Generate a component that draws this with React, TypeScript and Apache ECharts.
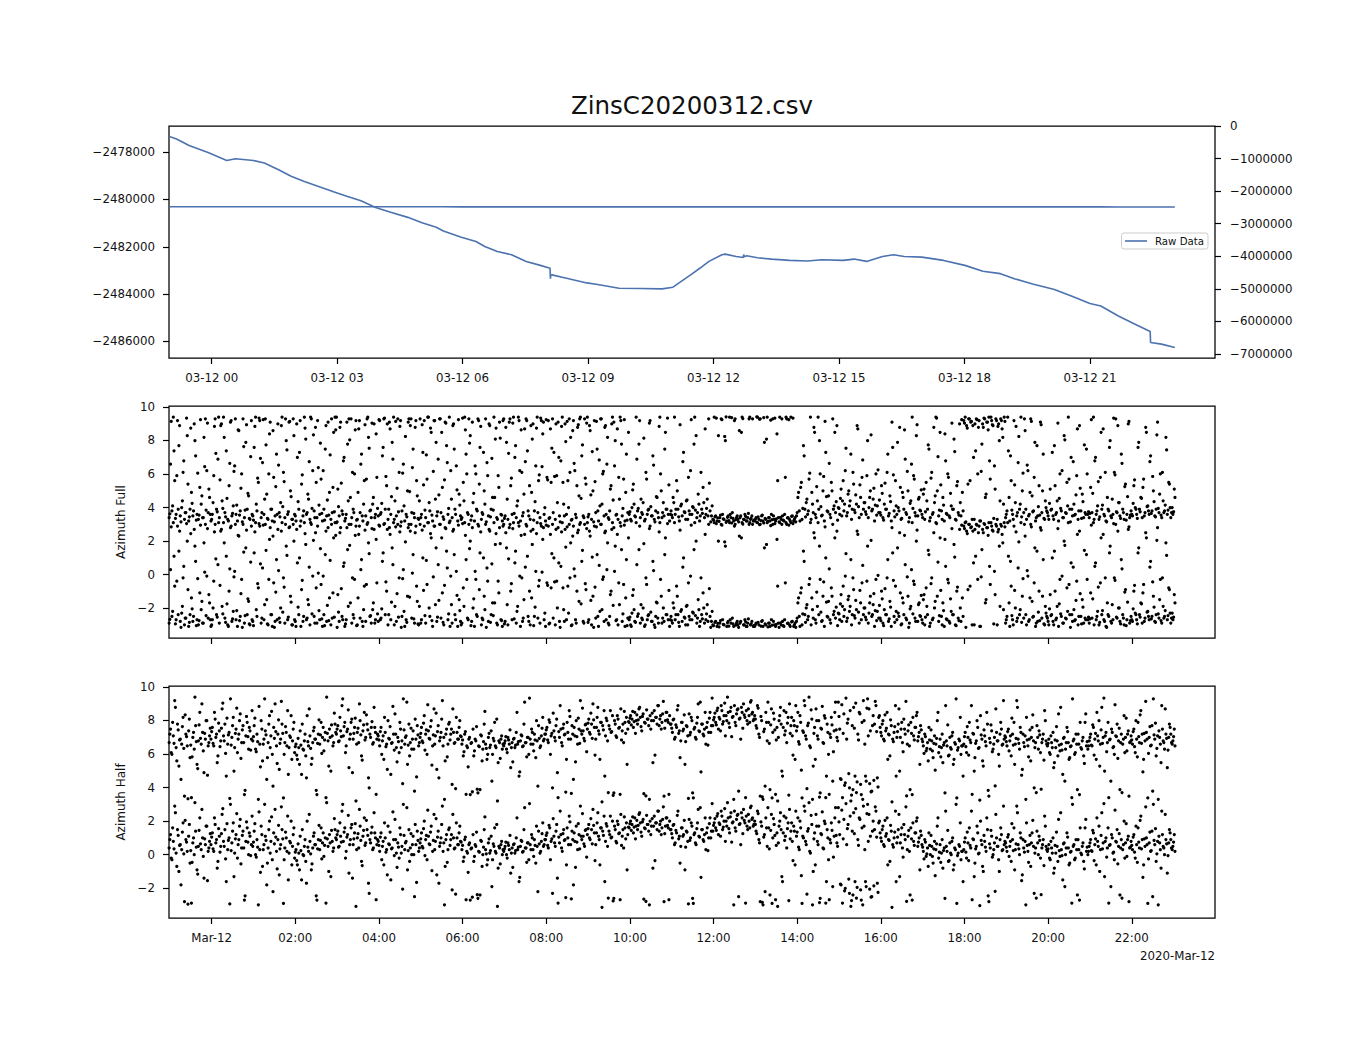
import React, { useEffect, useRef } from 'react';
import * as echarts from 'echarts';

// ---------- data ----------
// time axis is in hours relative to 2020-03-12 00:00
const SAMPLE_START_HOUR = -1.0167; // 22:59 on 2020-03-11
const SAMPLE_STEP_HOURS = 2 / 60; // each list holds one sample every 2 minutes
const SECOND_LIST_OFFSET_HOURS = 1 / 60; // the "B" lists fall on the odd minutes

const RAW_HOURS = [
  -1.01, -0.84, -0.54, -0.07, 0.36, 0.57, 1.0, 1.26, 1.6, 1.9, 2.2, 2.54, 2.93, 3.23, 3.57, 3.92, 4.26, 4.69, 5.03, 5.37,
  5.54, 5.97, 6.32, 6.53, 6.83, 7.17, 7.52, 7.86, 8.07, 8.09, 8.1, 8.11, 8.46, 8.97, 9.23, 9.74, 10.26, 10.77, 11.03, 11.46,
  11.68, 11.89, 12.2, 12.28, 12.54, 12.71, 12.72, 12.74, 12.79, 13.05, 13.39, 13.82, 14.25, 14.59, 15.1, 15.36, 15.66, 16.04,
  16.3, 16.56, 16.98, 17.5, 18.01, 18.44, 18.86, 19.21, 19.63, 20.15, 20.57, 21.0, 21.26, 21.68, 22.03, 22.44, 22.45, 22.71, 23.03,
];
const RAW_VALUES = [
  -2477342, -2477440, -2477720, -2478028, -2478350, -2478280, -2478350, -2478462, -2478741, -2479021, -2479231, -2479441,
  -2479679, -2479861, -2480057, -2480336, -2480532, -2480756, -2480980, -2481176, -2481330, -2481595, -2481777, -2481987,
  -2482197, -2482337, -2482617, -2482785, -2482897, -2482900, -2483344, -2483176, -2483316, -2483526, -2483596, -2483750,
  -2483764, -2483778, -2483708, -2483176, -2482897, -2482617, -2482337, -2482309, -2482407, -2482449, -2482330, -2482420,
  -2482379, -2482463, -2482519, -2482575, -2482603, -2482547, -2482575, -2482519, -2482617, -2482407, -2482337, -2482407,
  -2482435, -2482575, -2482785, -2483036, -2483134, -2483358, -2483568, -2483806, -2484086, -2484393, -2484505, -2484925,
  -2485233, -2485583, -2486044, -2486114, -2486254,
];

// azimuth samples (radians); each is drawn at its value and at its 2*pi alias
const AZIMUTH_FULL_A = [
  3.4, 0.3, 3.8, 3.1, 5.6, 3.6, 2.9, 1.4, 3.5, 4.0, 6.1, 3.3, 3.7, 2.0, 3.2, 3.9, 4.9, 3.5, 2.7, 0.8, 3.6, 3.3, 5.2, 4.2, 3.4, 1.9, 3.0, 6.2, 3.7, 4.6,
  3.2, 3.6, 5.9, 3.0, 3.9, 0.6, 3.4, 2.6, 4.4, 3.1, 3.7, 1.1, 3.3, 5.3, 2.8, 3.5, 4.1, 0.2, 3.6, 3.2, 2.3, 3.8, 6.0, 3.0, 3.4, 1.6, 3.9, 4.7, 3.3, 2.9,
  3.5, 1.3, 3.1, 3.8, 5.5, 2.9, 3.4, 0.4, 3.6, 3.0, 4.8, 3.3, 2.1, 3.9, 3.2, 5.8, 3.5, 0.9, 2.7, 3.7, 4.3, 3.1, 6.1, 3.4, 1.7, 3.6, 2.8, 5.0, 3.3, 3.0,
  3.6, 3.2, 0.7, 3.9, 2.9, 5.4, 3.5, 3.1, 1.8, 3.7, 4.5, 3.3, 3.0, 6.2, 3.8, 2.5, 3.4, 0.1, 3.6, 5.7, 3.2, 3.9, 1.2, 3.5, 2.8, 4.9, 3.3, 3.7, 2.2, 3.1,
  3.1, 5.1, 3.5, 2.8, 3.8, 0.5, 3.2, 3.6, 1.5, 3.0, 4.6, 3.4, 3.9, 6.0, 2.9, 3.3, 2.4, 3.7, 0.9, 3.2, 5.6, 3.5, 3.0, 1.9, 3.8, 3.4, 4.2, 2.7, 3.6, 5.8,
  3.5, 2.9, 3.7, 0.8, 3.0, 3.9, 5.3, 3.3, 2.8, 3.6, 1.6, 3.1, 4.4, 3.5, 3.0, 6.1, 2.9, 3.8, 0.3, 3.2, 3.6, 5.0, 3.0, 2.6, 3.7, 1.2, 3.4, 2.9, 4.7, 3.3,
  3.0, 3.6, 1.0, 2.9, 3.4, 5.7, 3.1, 3.8, 2.2, 3.2, 2.9, 4.5, 3.5, 0.6, 3.0, 3.7, 5.2, 3.3, 2.8, 1.4, 3.6, 3.1, 6.2, 3.4, 2.7, 3.9, 0.2, 3.2, 4.8, 3.5,
  3.4, 5.5, 3.1, 0.9, 3.7, 3.0, 2.0, 3.5, 4.3, 3.2, 6.0, 3.8, 2.9, 1.3, 3.3, 3.6, 5.0, 3.0, 0.4, 3.5, 2.6, 3.9, 4.6, 3.1, 1.8, 3.4, 5.9, 2.8, 3.6, 3.2,
  3.0, 3.5, 1.6, 3.3, 2.8, 5.3, 3.6, 3.1, 0.7, 3.4, 4.4, 2.9, 3.2, 6.1, 3.7, 2.4, 3.0, 1.1, 3.5, 3.3, 4.9, 2.7, 3.8, 0.2, 3.1, 5.6, 3.4, 2.9, 2.1, 3.6,
  3.2, 5.8, 2.9, 3.4, 5.5, 3.0, 1.0, 3.3, 5.9, 2.8, 3.5, 0.5, 3.1, 4.2, 2.7, 3.6, 5.6, 3.0, 1.9, 3.3, 2.9, 6.2, 3.4, 2.5, 4.7, 3.1, 0.8, 3.5, 3.0, 5.4,
  3.1, 3.6, 2.3, 3.3, 5.0, 2.9, 3.7, 1.2, 3.2, 4.1, 3.0, 6.0, 3.5, 2.6, 0.3, 3.4, 3.8, 5.3, 3.1, 2.8, 1.7, 3.6, 3.3, 4.5, 2.9, 3.5, 5.7, 3.2, 0.9, 3.7,
  3.6, 3.3, 4.0, 5.4, 3.5, 3.1, 3.8, 1.5, 3.4, 3.7, 4.3, 3.2, 6.1, 3.6, 3.9, 2.9, 3.5, 0.8, 3.3, 3.8, 4.6, 3.4, 3.1, 5.0, 3.7, 3.5, 2.2, 3.9, 3.6, 3.2,
  3.8, 3.4, 4.3, 3.6, 5.6, 3.9, 3.2, 4.1, 3.5, 1.0, 3.7, 4.4, 3.3, 3.8, 6.2, 3.6, 4.0, 3.1, 2.0, 3.7, 4.2, 3.5, 3.9, 5.2, 3.4, 3.6, 4.5, 3.0, 3.8, 3.5,
  3.3, 3.1, 3.5, 3.2, 2.0, 3.4, 3.0, 3.6, 3.3, 1.7, 3.2, 3.5, 3.1, 3.4, 3.7, 3.2, 3.0, 3.4, 3.3, 2.3, 3.5, 3.1, 3.3, 3.6, 3.2, 3.4, 3.0, 3.3, 3.5, 3.2,
  3.2, 3.4, 3.1, 3.3, 3.0, 3.5, 3.2, 1.6, 3.3, 3.1, 3.4, 3.2, 3.6, 3.0, 3.3, 3.2, 2.1, 3.4, 3.1, 3.3, 3.5, 3.2, 5.8, 3.0, 3.4, 3.3, 3.1, 3.5, 3.2, 3.4,
  3.5, 4.6, 3.8, 5.2, 3.3, 1.4, 3.9, 4.3, 3.6, 5.7, 3.1, 4.9, 3.7, 2.2, 3.4, 4.4, 3.9, 6.0, 3.5, 5.0, 3.2, 1.0, 3.8, 4.7, 3.6, 5.5, 3.0, 4.1, 3.7, 2.6,
  4.0, 3.6, 5.1, 4.4, 3.8, 6.2, 3.5, 4.8, 4.1, 0.9, 3.9, 5.4, 3.7, 4.2, 2.4, 3.4, 4.6, 5.8, 3.9, 4.3, 3.6, 1.7, 4.0, 5.0, 3.8, 4.5, 3.2, 6.0, 4.1, 3.7,
  3.7, 5.3, 3.4, 4.2, 3.9, 6.1, 3.5, 4.7, 3.2, 1.3, 3.8, 5.6, 3.6, 4.0, 2.5, 3.3, 4.9, 3.9, 0.6, 3.6, 5.0, 3.4, 4.4, 3.1, 5.9, 3.7, 2.0, 3.5, 4.6, 3.8,
  3.6, 4.8, 3.3, 5.5, 3.9, 1.2, 3.4, 6.1, 3.7, 4.3, 3.1, 5.0, 3.5, 2.2, 3.8, 4.6, 3.2, 0.5, 3.6, 5.8, 3.4, 4.1, 3.9, 1.8, 3.3, 5.3, 3.7, 2.7, 3.5, 4.9,
  2.9, 3.1, 2.6, 5.4, 3.0, 2.8, 3.3, 0.7, 2.7, 3.0, 6.0, 2.9, 3.2, 1.5, 2.5, 3.0, 4.8, 2.8, 3.1, 5.7, 2.9, 2.6, 0.2, 3.0, 3.3, 2.7, 4.4, 2.9, 1.9, 3.1,
  3.4, 3.8, 1.1, 3.2, 5.6, 3.6, 2.9, 4.3, 3.5, 0.4, 3.9, 3.1, 5.0, 3.7, 2.3, 3.3, 6.2, 3.6, 3.0, 4.7, 3.8, 1.6, 3.4, 3.5, 5.3, 2.8, 3.7, 0.9, 3.3, 4.0,
  3.7, 3.3, 5.1, 3.9, 3.5, 1.4, 3.6, 4.4, 3.2, 6.0, 3.8, 3.4, 2.0, 3.7, 5.5, 3.1, 3.9, 0.7, 3.5, 4.2, 3.6, 5.9, 3.3, 2.6, 3.8, 4.8, 3.4, 3.7, 1.2, 3.6,
  3.4, 5.2, 3.7, 3.1, 0.5, 3.6, 4.1, 3.3, 5.8, 3.9, 2.4, 3.5, 3.2, 4.6, 3.8, 1.7, 3.4, 3.6, 6.1, 3.0, 3.7, 4.3, 3.5, 0.9, 3.9, 3.3, 5.4, 3.6, 2.7, 3.4,
  3.8, 3.5, 5.3, 4.0, 3.6, 1.3, 3.9, 4.6, 3.4, 5.7, 3.7, 2.2, 4.1, 3.6, 0.8, 3.8, 5.0, 3.5, 3.9, 2.8, 3.7, 6.0, 3.4, 4.4, 3.8, 1.9, 3.6, 5.5, 4.0, 3.7,
  3.6, 5.1,
];

const AZIMUTH_FULL_B = [
  3.62, 2.85, 4.1, 1.1, 3.35, 5.9, 3.9, 2.6, 3.15, 4.4, 0.5, 3.7, 3.05, 5.4, 3.45, 2.45, 4.25, 3.8, 1.7, 3.25, 6.05, 3.55, 2.95, 4.7, 3.4, 0.15, 3.85, 2.75, 5.1, 3.6,
  3.3, 4.3, 2.55, 0.95, 3.75, 3.1, 5.65, 2.7, 3.95, 1.9, 3.45, 4.55, 3.2, 0.35, 2.9, 3.65, 6.15, 3.0, 4.15, 2.35, 3.55, 5.15, 3.15, 1.35, 3.85, 2.65, 4.85, 3.35, 0.75, 3.6,
  3.25, 2.55, 4.2, 5.75, 3.05, 0.65, 3.7, 2.95, 4.5, 1.45, 3.35, 6.0, 2.8, 3.9, 2.3, 3.15, 5.25, 3.6, 0.25, 3.45, 2.6, 4.05, 5.55, 3.0, 1.15, 3.75, 2.85, 4.65, 3.3, 2.0,
  3.5, 2.7, 4.35, 1.0, 3.2, 5.95, 3.8, 2.45, 3.6, 4.8, 0.45, 3.1, 3.95, 2.05, 3.4, 5.5, 2.9, 4.15, 1.55, 3.65, 6.2, 3.25, 2.6, 4.45, 3.55, 0.85, 3.0, 5.2, 3.75, 2.35,
  3.15, 4.05, 2.5, 5.45, 3.6, 0.7, 3.35, 2.8, 4.4, 1.75, 3.0, 6.1, 3.7, 2.35, 3.25, 4.9, 2.9, 0.3, 3.5, 4.2, 2.65, 5.7, 3.1, 1.25, 3.85, 2.75, 4.6, 3.4, 2.1, 3.95,
  2.95, 3.6, 4.25, 1.3, 3.05, 5.85, 2.7, 3.9, 2.4, 4.65, 0.6, 3.3, 2.85, 5.15, 3.75, 2.55, 3.15, 6.05, 4.1, 1.95, 3.45, 2.8, 4.95, 3.0, 0.1, 3.65, 2.5, 5.6, 3.35, 4.4,
  3.4, 2.65, 5.35, 3.85, 0.85, 3.1, 4.3, 2.45, 3.55, 6.15, 2.9, 1.6, 3.75, 4.75, 3.0, 2.2, 3.45, 5.65, 2.75, 0.4, 3.95, 3.2, 4.5, 2.6, 1.2, 3.6, 5.05, 2.95, 4.15, 3.3,
  3.05, 4.4, 2.35, 6.0, 3.6, 1.55, 3.25, 2.8, 4.85, 0.2, 3.9, 3.0, 5.4, 2.55, 3.7, 1.0, 4.2, 3.15, 5.9, 2.7, 3.45, 0.65, 3.85, 4.6, 2.45, 3.3, 5.2, 1.85, 3.55, 2.9,
  3.35, 2.5, 4.5, 0.95, 3.0, 5.75, 2.75, 3.65, 1.4, 4.1, 3.1, 6.2, 2.35, 3.5, 4.8, 0.45, 2.9, 3.8, 5.3, 2.6, 1.8, 3.25, 4.35, 2.45, 3.7, 5.95, 3.05, 0.15, 2.8, 4.0,
  2.95, 5.65, 3.35, 2.4, 1.25, 3.7, 5.85, 2.7, 4.3, 0.7, 3.15, 2.55, 5.5, 3.5, 1.65, 2.85, 4.0, 6.1, 3.25, 2.3, 0.35, 3.6, 5.3, 2.65, 3.0, 4.55, 1.45, 3.4, 5.75, 2.75,
  3.45, 2.6, 4.75, 1.05, 3.15, 5.55, 2.85, 3.8, 0.55, 3.0, 4.2, 6.15, 2.5, 3.6, 1.9, 3.3, 5.1, 2.7, 4.45, 0.2, 3.55, 2.4, 5.8, 3.1, 1.5, 3.95, 2.95, 4.9, 3.25, 2.2,
  3.75, 3.2, 5.05, 4.2, 3.45, 0.6, 3.95, 2.9, 4.5, 3.6, 1.85, 3.3, 5.7, 3.85, 2.75, 4.05, 3.5, 0.25, 3.15, 4.65, 3.7, 2.55, 6.0, 3.4, 4.3, 1.2, 3.9, 3.05, 5.35, 3.6,
  3.55, 4.6, 3.1, 3.9, 5.0, 3.45, 2.65, 4.2, 0.45, 3.75, 3.3, 4.45, 5.8, 3.6, 2.95, 4.05, 1.5, 3.85, 3.4, 4.8, 3.2, 6.1, 3.65, 4.3, 2.4, 3.95, 3.5, 5.45, 3.15, 4.1,
  3.25, 3.45, 3.05, 3.38, 3.18, 3.55, 2.95, 3.32, 1.95, 3.12, 3.42, 3.22, 3.6, 3.08, 3.35, 2.9, 3.28, 3.5, 3.15, 3.4, 2.2, 3.02, 3.3, 3.48, 3.2, 3.65, 3.1, 3.36, 3.0, 3.25,
  3.3, 3.12, 3.45, 2.98, 3.22, 3.55, 3.08, 3.35, 1.8, 3.18, 3.4, 2.92, 3.28, 3.5, 3.05, 3.32, 5.6, 3.15, 3.42, 3.0, 3.25, 3.6, 3.1, 3.38, 2.95, 3.2, 3.48, 3.05, 3.3, 3.15,
  3.7, 4.9, 3.2, 5.5, 3.95, 0.8, 3.45, 4.5, 3.8, 6.05, 3.3, 4.2, 2.5, 3.6, 5.25, 3.1, 1.7, 4.05, 3.55, 5.85, 2.85, 4.65, 3.75, 0.35, 3.4, 5.0, 3.9, 2.2, 4.35, 3.25,
  3.95, 4.55, 3.5, 5.6, 4.2, 1.25, 3.7, 5.0, 4.4, 3.3, 6.1, 3.85, 4.75, 2.6, 4.05, 5.35, 3.6, 0.55, 4.3, 3.75, 5.9, 3.4, 4.6, 2.05, 3.9, 5.15, 4.15, 3.55, 6.25, 4.45,
  3.55, 4.85, 3.25, 5.45, 3.9, 0.9, 3.65, 4.35, 2.8, 5.95, 3.45, 4.1, 1.6, 3.8, 5.2, 3.35, 4.6, 2.35, 3.7, 6.15, 3.15, 4.25, 0.3, 3.95, 5.7, 3.5, 2.65, 4.5, 3.85, 5.05,
  3.4, 5.1, 3.75, 4.4, 1.45, 3.2, 5.75, 3.6, 2.5, 4.7, 3.05, 0.75, 3.85, 5.35, 3.3, 4.15, 2.1, 3.65, 6.0, 3.5, 4.85, 2.75, 3.9, 1.05, 3.25, 5.55, 3.55, 4.3, 2.95, 3.8,
  2.75, 3.15, 2.45, 3.0, 5.6, 2.85, 2.6, 3.3, 1.1, 2.95, 2.5, 3.2, 6.15, 2.7, 3.05, 4.6, 2.8, 2.35, 0.5, 3.1, 2.65, 3.35, 5.1, 2.9, 2.55, 1.7, 3.0, 2.4, 4.2, 2.85,
  3.6, 3.1, 4.6, 0.8, 3.85, 3.3, 5.35, 2.55, 3.7, 1.95, 4.2, 3.45, 6.05, 3.0, 3.9, 0.25, 3.5, 4.9, 2.85, 3.75, 5.8, 3.2, 1.4, 4.05, 3.55, 2.65, 5.0, 3.35, 4.4, 3.8,
  3.5, 4.25, 3.85, 1.0, 3.3, 5.3, 3.7, 2.75, 4.55, 3.95, 6.2, 3.4, 1.75, 3.65, 4.1, 5.7, 3.15, 3.9, 0.45, 3.55, 4.75, 2.4, 3.8, 5.15, 3.35, 4.35, 1.45, 3.6, 6.0, 3.75,
  3.65, 2.95, 4.85, 3.3, 0.7, 3.8, 5.55, 3.45, 2.2, 4.15, 3.6, 6.1, 3.15, 3.9, 1.3, 3.5, 4.5, 3.05, 5.95, 3.75, 2.6, 4.3, 3.35, 0.35, 3.7, 5.25, 3.25, 4.65, 2.85, 3.55,
  3.6, 4.25, 5.65, 3.9, 3.35, 1.6, 3.75, 4.55, 5.2, 3.5, 2.5, 4.05, 3.8, 0.45, 3.65, 5.85, 4.35, 3.45, 2.05, 3.95, 4.8, 3.55, 6.1, 3.7, 4.15, 1.15, 3.85, 5.4, 3.4, 4.0,
  3.75, 4.6,
];

const AZIMUTH_HALF_A = [
  0.4, 1.2, -0.3, 0.8, 2.9, 0.1, 1.5, -1.0, 0.6, 0.3, 1.9, -2.8, 0.9, 0.2, 1.1, -0.5, 3.4, 0.7, 0.0, 1.4, -0.9, 0.5, 2.2, 0.3, 1.0, -1.4, 0.6, 1.7, 0.2, 0.8,
  0.6, 1.3, 0.2, 1.8, 0.9, -0.4, 1.1, 0.5, 2.4, 0.8, 1.5, -1.6, 0.3, 1.0, 3.0, 0.7, 1.9, 0.1, 1.2, -0.2, 0.9, 2.1, 0.4, 1.4, -2.7, 0.8, 1.6, 0.0, 1.1, 0.6,
  0.5, 1.4, 0.0, 0.9, 3.3, 0.3, 1.7, -0.7, 0.6, 1.1, -1.8, 0.4, 2.0, 0.8, -0.3, 1.3, 2.7, 0.2, 0.9, -1.2, 0.6, 1.5, -2.9, 0.4, 1.0, 2.3, 0.1, 0.7, -0.6, 1.2,
  -0.2, 0.3, -0.6, 0.1, 1.1, -1.5, 0.0, 0.5, -0.4, 2.0, 0.2, 0.8, -0.9, 0.4, 1.3, 0.6, -2.7, 0.9, 0.3, 1.6, 0.7, -0.1, 1.0, 3.1, 0.5, 1.2, -1.3, 0.8, 0.4, 1.5,
  0.9, 1.4, 0.5, 1.1, 2.6, 0.8, 1.6, 0.2, 1.2, -1.1, 0.9, 1.8, 0.6, 1.3, 3.2, 1.0, 0.4, 1.7, -0.4, 1.1, 2.2, 0.7, 1.5, -1.7, 0.9, 1.3, 0.3, 2.5, 1.0, 0.6,
  0.8, 0.2, 1.3, 0.5, -0.6, 1.0, 0.3, 1.7, 0.6, -1.5, 0.4, 0.9, 2.1, 0.1, 0.7, -0.2, 1.2, 0.5, 3.0, 0.3, 0.8, -0.9, 1.5, 0.4, 0.0, 1.1, -2.5, 0.6, 1.4, 0.2,
  0.7, 1.3, 0.4, 2.0, 0.9, -0.3, 1.1, 0.6, 1.7, 0.2, 2.4, 0.8, -1.2, 1.4, 0.5, 1.0, 2.9, 0.7, -0.7, 1.2, 0.3, 1.6, 0.9, -2.1, 1.0, 0.4, 1.9, 0.6, 1.3, 0.8,
  0.3, -0.4, 0.9, 3.6, 0.1, 0.6, -2.7, 0.4, 1.2, -0.1, 0.5, 3.9, 0.2, -2.4, 0.8, 0.0, 1.5, 0.3, -0.6, 0.7, 0.1, 1.1, -0.3, 0.5, 0.2, 1.8, -0.8, 0.4, 0.6, 0.0,
  0.2, 0.5, 0.0, 0.7, 0.3, -1.1, 0.4, 0.6, 0.1, 1.0, 0.3, -1.6, 0.5, 0.8, 0.2, 2.8, 0.4, 0.7, -0.3, 0.6, 1.2, 0.3, 0.9, -0.5, 0.5, 1.4, 0.1, 0.8, 1.9, 0.6,
  0.9, 1.3, 0.4, 1.6, 0.8, -2.3, 1.1, 0.5, 1.8, 3.4, 0.7, 1.2, 0.2, 1.5, 0.9, -0.6, 1.0, 2.3, 0.6, 1.4, -1.8, 0.8, 1.7, 0.3, 1.2, 2.9, 0.9, 1.1, 0.5, 1.5,
  1.2, 1.8, 0.9, 1.5, 2.7, 1.3, 0.6, 1.9, 1.1, -0.6, 1.6, 1.4, 2.3, 0.8, 1.7, 3.7, 1.2, 1.0, 2.0, -2.6, 1.5, 0.7, 1.8, 1.3, 2.4, 1.1, 0.4, 1.6, 1.9, 1.2,
  1.6, 2.0, 1.8, 1.3, 2.2, 1.7, 1.5, 2.4, 1.9, 1.1, 2.1, 1.6, 3.5, 1.8, 1.4, 2.0, 1.7, -0.8, 2.3, 1.9, 1.5, 2.6, 1.8, 1.2, 2.1, -2.8, 1.7, 2.2, 1.6, 2.0,
  1.5, 1.0, 1.8, 0.7, 1.3, 2.6, 1.1, 0.5, 1.6, 1.2, -0.9, 1.4, 0.8, 2.1, 1.0, 1.7, -2.9, 1.3, 0.6, 1.9, 1.1, 2.8, 1.5, 0.9, 1.2, 0.3, 1.6, 1.0, 2.2, 1.4,
  1.4, 1.9, 1.6, 2.3, 1.2, 1.8, 2.6, 1.5, 2.0, 0.8, 1.7, 2.2, 1.3, 2.5, 1.9, 3.3, 1.6, 2.1, 2.4, 1.8, 0.6, 2.2, 2.7, 1.9, 2.3, 1.5, 2.0, 2.8, 2.1, 1.7,
  2.0, 1.4, 2.6, 0.9, -2.8, 1.7, 3.3, 1.2, 2.2, 0.5, 1.6, -2.4, 2.4, 1.0, 1.8, 3.6, 1.3, 0.7, 2.0, 1.5, -1.6, 2.3, 1.1, 0.4, 1.9, 2.7, 1.4, 0.8, 1.7, -0.6,
  1.1, 2.2, 0.3, 1.6, -2.9, 1.0, 2.6, 0.6, 1.4, 3.1, 0.1, 1.8, -1.0, 1.3, 2.4, 0.8, 1.7, -2.6, 1.2, 0.4, 2.0, 3.4, 1.5, -0.3, 0.9, 1.9, -1.9, 1.1, 2.8, 0.7,
  2.8, 1.2, -1.8, 3.4, 2.1, -2.0, 0.6, 1.8, -2.3, 3.2, 1.4, 2.5, -1.6, 3.7, 0.9, 2.2, -2.1, 1.6, 2.9, 0.3, -1.9, 3.0, 2.4, 1.1, -2.5, 2.0, 1.5, 2.6, -1.7, 1.9,
  1.3, 0.8, 1.7, 0.5, 1.1, 2.2, 0.9, -0.4, 1.4, 0.6, 1.0, 2.6, 0.7, 1.5, -1.3, 1.2, 0.4, 1.8, 0.9, 3.5, 1.1, 0.2, 1.6, -2.7, 0.8, 1.3, 2.0, 0.5, 1.0, 1.4,
  0.6, 0.2, 0.9, -0.1, 0.4, 1.3, 0.0, 0.5, -0.5, 0.8, 0.3, 1.7, -0.2, 0.6, 0.1, -0.8, 0.4, 2.6, 0.2, -0.4, 0.7, 0.0, 1.0, -0.6, 0.3, -2.9, 0.1, 0.5, -0.3, 0.2,
  0.3, 1.0, -0.2, 0.7, 1.6, 0.4, 3.6, 0.9, -0.5, 0.5, 1.3, 0.1, 2.0, 0.6, -1.0, 0.8, 0.2, 1.5, -2.8, 0.4, 1.1, 0.0, 0.7, 2.4, 0.5, -0.3, 0.9, 1.2, 0.3, 0.6,
  0.7, 0.2, 1.2, 0.5, -0.4, 0.9, 1.6, 0.3, 2.9, 0.6, 0.0, 1.0, -1.2, 0.4, 0.8, 1.9, 0.2, 0.6, -0.7, 1.3, 0.5, 0.1, 3.7, 0.7, 1.1, -0.2, 0.4, 0.9, 2.3, 0.5,
  0.2, 0.6, -0.3, 0.4, 1.0, -0.8, 0.1, 0.5, 2.1, -0.1, 0.3, -1.5, 0.7, 0.0, 1.3, 0.4, -0.5, 0.2, 3.0, 0.6, -0.2, 0.3, 0.9, -2.7, 0.1, 0.5, -0.4, 1.6, 0.2, 0.0,
  0.5, 0.9, 0.2, 1.3, 0.6, -0.6, 0.8, 1.7, 0.3, 2.5, 0.7, -1.3, 1.0, 0.4, 3.4, 0.6, 1.2, 0.1, -0.3, 0.8, 1.5, 0.5, -2.4, 0.9, 0.3, 2.0, 0.7, -0.1, 1.1, 0.4,
  0.8, 0.3, 1.2, -0.2, 0.6, 1.6, 0.4, 2.3, 0.9, -0.6, 0.5, 1.0, -2.9, 0.7, 0.2, 1.4, 3.0, 0.6, -0.4, 0.8, 1.1, 0.3, 2.6, 0.5, 0.0, 0.9, -1.1, 0.7, 1.3, 0.4,
  0.5, 1.2,
];

const AZIMUTH_HALF_B = [
  0.9, -0.2, 1.6, 0.35, 2.5, -0.7, 1.15, 0.55, -1.8, 1.35, 0.05, 2.05, 0.75, -2.95, 1.8, 0.25, -0.45, 1.0, 3.1, 0.45, -1.15, 1.45, 0.65, 2.7, -0.1, 0.95, 1.7, -1.55, 0.4, 1.25,
  1.05, 0.35, 2.2, 0.7, -0.8, 1.55, 0.15, 1.25, 2.75, 0.5, -0.25, 1.85, 0.85, 3.35, 0.25, 1.4, -1.3, 0.95, 2.45, 0.6, 1.7, -0.55, 1.15, 0.4, -2.45, 1.95, 0.75, 1.3, -0.05, 2.3,
  0.75, 1.85, -0.15, 0.45, 2.55, -1.05, 1.2, 0.3, 3.0, 0.85, -0.5, 1.5, 0.1, 2.25, -2.2, 0.65, 1.05, -0.85, 1.75, 0.35, 2.85, 0.95, -0.3, 1.35, 0.2, -1.5, 0.8, 2.0, 0.5, 1.6,
  0.15, -0.35, 0.65, -0.9, 0.25, 1.5, -0.05, 0.9, -1.7, 0.45, 2.4, 0.05, -0.55, 1.1, 0.6, -2.45, 0.35, 1.75, 0.85, -0.25, 1.3, 0.55, 3.4, 0.95, -1.0, 0.7, 1.45, 0.2, 2.15, 1.0,
  1.2, 0.45, 1.9, 0.75, 3.0, 1.35, -0.2, 1.05, 2.35, 0.6, 1.6, -1.4, 0.95, 1.85, 0.3, 1.25, 2.7, 0.85, -0.65, 1.45, 0.55, 2.05, 1.15, -2.3, 0.7, 1.65, 0.4, 1.3, 3.6, 0.9,
  0.55, 1.05, -0.3, 0.8, 1.9, 0.15, -1.2, 0.65, 1.35, 0.35, 2.55, -0.05, 0.9, -0.75, 0.45, 1.6, 0.1, -2.05, 1.15, 0.7, 2.8, 0.25, -0.4, 1.25, 0.6, 0.0, 1.8, -1.65, 0.85, 0.4,
  0.95, 0.5, 1.55, -0.05, 1.15, 2.65, 0.65, 1.35, -0.95, 0.85, 0.3, 2.15, 1.05, -1.7, 0.7, 1.8, 0.2, 3.3, 0.9, -0.45, 1.5, 0.55, 1.2, 2.4, 0.35, -2.35, 1.0, 0.6, 1.7, 0.75,
  0.55, -0.15, 1.05, 0.2, -1.05, 0.7, 0.35, 3.75, -0.4, 0.6, 1.35, -2.6, 0.15, 0.85, -0.7, 0.45, 2.25, 0.05, -0.3, 0.95, 0.25, -1.9, 0.65, 1.6, 0.1, 3.2, 0.5, -0.55, 0.8, 0.3,
  0.35, 0.75, -0.2, 0.55, 1.15, 0.1, -0.75, 0.65, 0.25, 2.2, 0.45, -1.35, 0.85, 0.15, 1.5, 0.4, -0.45, 0.7, 3.05, 0.3, 1.0, -0.1, 0.55, 1.7, -2.2, 0.65, 0.2, 1.25, 0.5, 0.9,
  1.15, 0.55, 1.75, -0.3, 0.95, 2.15, 0.7, 1.4, -1.4, 1.05, 2.6, 0.4, 1.25, 0.85, -2.55, 1.6, 0.6, 1.95, 3.65, 0.9, 1.3, -0.75, 0.75, 1.85, 0.35, 1.1, 2.45, 0.65, 1.45, -0.15,
  1.55, 1.0, 2.15, 0.65, 1.75, -0.35, 1.3, 2.5, 0.9, 1.6, 3.15, 1.15, -1.6, 1.85, 0.5, 1.4, 2.3, 1.05, -2.75, 1.7, 0.8, 2.0, 1.25, 3.6, 0.55, 1.5, 2.25, 0.95, -0.9, 1.65,
  1.85, 1.45, 2.25, 1.65, 0.95, 2.05, 1.75, 2.5, 1.35, 1.95, -2.65, 1.55, 2.35, 1.8, 3.3, 1.2, 2.15, 1.7, -0.35, 1.9, 2.6, 1.4, 2.0, 1.6, 2.85, 1.25, 2.2, 1.75, 3.6, 1.5,
  1.25, 1.75, 0.6, 1.45, 2.35, 0.95, -0.5, 1.6, 1.1, 2.05, 0.45, 1.35, 3.35, 0.85, 1.9, -2.6, 1.2, 0.7, 1.55, 2.7, 1.05, -1.35, 1.5, 0.8, 2.2, 1.3, 0.25, 1.85, 1.0, 3.05,
  1.75, 2.15, 1.45, 2.45, 1.9, 1.1, 2.3, 1.65, 2.75, 2.0, 3.1, 1.55, 2.25, 0.75, 1.95, 2.6, 1.4, 2.35, -2.5, 1.85, 2.5, 1.25, 2.05, 3.4, 1.7, 2.4, 1.6, 2.9, 2.2, 1.8,
  1.8, 1.25, 2.45, 0.7, 1.95, 3.45, 1.05, -2.2, 1.6, 2.8, 0.35, 1.45, -2.9, 2.15, 1.15, 0.55, 3.2, 1.7, 2.5, -1.3, 1.3, 0.85, 2.2, 1.55, 3.55, 0.95, 1.9, -0.35, 1.4, 2.6,
  1.35, 0.45, 2.0, -1.25, 1.1, 2.9, 0.8, -2.35, 1.55, 0.2, 2.35, 3.3, 0.95, -0.6, 1.7, 0.6, -2.85, 1.25, 2.55, 0.35, 1.85, -1.6, 1.0, 3.6, 0.7, 1.45, -0.15, 2.2, 1.15, 0.5,
  1.95, -1.75, 2.65, 0.95, -2.15, 3.05, 1.55, -1.45, 2.3, 3.55, -2.4, 1.25, 2.75, -1.95, 0.55, 2.1, -2.7, 3.3, 1.7, -1.6, 2.45, 0.8, -2.05, 3.75, 1.4, -1.85, 2.85, 1.05, -2.25, 2.0,
  1.0, 1.5, 0.6, 2.05, 1.25, -0.6, 0.85, 1.75, 3.15, 0.45, 1.35, -1.6, 1.05, 2.4, 0.7, 1.6, -0.15, 1.2, 2.85, 0.3, 1.45, -2.4, 0.95, 1.9, 0.55, 1.3, 2.2, 0.75, -0.9, 1.15,
  0.45, -0.25, 0.75, 0.05, -0.7, 0.55, 1.15, -0.1, 0.35, -1.25, 0.65, 2.2, 0.15, -0.45, 0.9, 0.25, -2.6, 0.5, 1.45, -0.35, 0.1, 0.8, -0.9, 0.4, 3.0, -0.05, 0.6, 1.9, 0.2, -1.6,
  0.75, 0.15, 1.35, -0.35, 0.55, 2.6, 0.95, -1.3, 0.35, 1.7, 0.05, 3.25, 0.85, -0.7, 1.15, 0.45, 2.2, -2.45, 0.65, 1.45, -0.15, 0.3, 4.1, 1.0, 0.5, -1.0, 1.6, 0.25, 2.9, 0.8,
  0.45, 1.05, -0.1, 0.8, 1.85, 0.25, -0.9, 0.65, 2.5, 0.35, 1.3, -1.55, 0.9, 0.15, 3.3, 0.55, -0.45, 1.15, 0.7, 2.05, -2.3, 0.4, 1.4, 0.0, 0.85, 3.9, 0.6, -0.65, 1.7, 0.3,
  0.35, -0.2, 0.8, 0.1, -1.1, 0.55, 1.35, -0.4, 0.25, 2.5, -0.05, 0.65, -1.9, 0.4, 1.05, -0.6, 0.15, 3.4, 0.5, -0.3, 0.9, -2.4, 0.3, 1.6, 0.0, 0.7, -0.85, 2.1, 0.45, 0.2,
  0.7, 0.25, 1.45, -0.35, 0.95, 2.2, 0.5, -1.0, 1.15, 0.35, 3.05, 0.8, -0.15, 1.6, 0.55, -1.9, 1.0, 0.15, 2.65, 0.75, -0.55, 1.25, 0.4, 3.7, 0.6, -0.2, 1.85, 0.9, -2.8, 0.45,
  0.55, 1.05, 0.15, 1.7, -0.45, 0.75, 2.05, 0.35, -1.35, 0.95, 2.85, 0.6, -0.25, 1.35, 0.25, -2.5, 0.85, 1.55, 0.05, 3.3, 0.7, -0.8, 1.2, 0.4, 2.4, 0.65, -0.05, 1.5, 0.9, 0.3,
  0.75, 0.2,
];

// ticks
const TOP_TICK_HOURS = [0, 3, 6, 9, 12, 15, 18, 21];
const TOP_TICK_LABELS = ['03-12 00', '03-12 03', '03-12 06', '03-12 09', '03-12 12', '03-12 15', '03-12 18', '03-12 21'];
const BOTTOM_TICK_HOURS = [0, 2, 4, 6, 8, 10, 12, 14, 16, 18, 20, 22];
const BOTTOM_TICK_LABELS = ['Mar-12', '02:00', '04:00', '06:00', '08:00', '10:00', '12:00', '14:00', '16:00', '18:00', '20:00', '22:00'];
const RAW_LEFT_TICKS = [-2486000, -2484000, -2482000, -2480000, -2478000];
const RAW_RIGHT_TICKS = [-7000000, -6000000, -5000000, -4000000, -3000000, -2000000, -1000000, 0];
const AZIMUTH_TICKS = [-2, 0, 2, 4, 6, 8, 10];

const TITLE = 'ZinsC20200312.csv';
const SERIES_NAME = 'Raw Data';
const FULL_LABEL = 'Azimuth Full';
const HALF_LABEL = 'Azimuth Half';
const DATE_OFFSET_LABEL = '2020-Mar-12';

// ---------- helpers ----------
const FONT = 'DejaVu Sans';
const TEXT_COLOR = '#111111';
const LINE_COLOR = '#4c72b0';

const minusFmt = (v: number) => (v < 0 ? '\u2212' + String(Math.abs(v)) : String(v));

function aliasPoints(values: number[], offsetHours: number) {
  const pts: number[][] = [];
  values.forEach((v, i) => {
    const t = SAMPLE_START_HOUR + offsetHours + i * SAMPLE_STEP_HOURS;
    pts.push([t, v]);
    pts.push([t, v < Math.PI ? v + 2 * Math.PI : v - 2 * Math.PI]);
  });
  return pts;
}

function labelFor(hours: number[], labels: string[]) {
  return (v: number) => {
    const idx = hours.findIndex((h) => Math.abs(h - v) < 1e-6);
    return idx >= 0 ? labels[idx] : '';
  };
}

const X_MIN = -1.02;
const X_MAX = 23.99;
const GRID_LEFT = 169;
const GRID_WIDTH = 1046;
const GRID_HEIGHT = 232;
const GRID_TOPS = [126, 406, 686];

export default function App() {
  const ref = useRef<HTMLDivElement>(null);

  useEffect(() => {
    if (!ref.current) return;
    const chart = echarts.init(ref.current, null, { renderer: 'svg', width: 1350, height: 1050 });

    const rawData = RAW_HOURS.map((h, i) => [h, RAW_VALUES[i]]);

    const tickStyle = { show: true, inside: false, length: 6, lineStyle: { color: '#000', width: 1.2 } };
    const labelBase = { color: TEXT_COLOR, fontSize: 11.8, fontFamily: FONT };

    const xAxisCommon = (gridIndex: number, hours: number[], labels: string[], showLabels: boolean, step: number) => ({
      type: 'value',
      gridIndex,
      min: X_MIN,
      max: X_MAX,
      minInterval: step,
      maxInterval: step,
      axisLine: { show: false, onZero: false },
      splitLine: { show: false },
      axisTick: { ...tickStyle, customValues: hours },
      axisLabel: {
        ...labelBase,
        show: showLabels,
        margin: 14,
        customValues: hours,
        showMinLabel: true,
        showMaxLabel: true,
        hideOverlap: false,
        formatter: labelFor(hours, labels),
      },
    });

    const azYAxis = (gridIndex: number) => ({
      type: 'value',
      gridIndex,
      min: -3.77,
      max: 10.05,
      axisLine: { show: false, onZero: false },
      splitLine: { show: false },
      axisTick: { ...tickStyle, customValues: AZIMUTH_TICKS },
      axisLabel: { ...labelBase, margin: 14, customValues: AZIMUTH_TICKS, showMinLabel: true, showMaxLabel: true, formatter: minusFmt },
    });

    const scatterSeries = (name: string, gridIndex: number, values: number[], offset: number) => ({
      name,
      type: 'scatter',
      xAxisIndex: gridIndex,
      yAxisIndex: gridIndex + 1,
      data: aliasPoints(values, offset),
      symbolSize: 3.2,
      itemStyle: { color: '#000', opacity: 1 },
      silent: true,
      large: false,
    });

    const option: any = {
      animation: false,
      textStyle: { fontFamily: FONT },
      grid: GRID_TOPS.map((top) => ({
        left: GRID_LEFT,
        top,
        width: GRID_WIDTH,
        height: GRID_HEIGHT,
        show: true,
        borderColor: '#000',
        borderWidth: 1.25,
        backgroundColor: 'transparent',
        containLabel: false,
      })),
      xAxis: [
        xAxisCommon(0, TOP_TICK_HOURS, TOP_TICK_LABELS, true, 3),
        xAxisCommon(1, BOTTOM_TICK_HOURS, BOTTOM_TICK_LABELS, false, 2),
        xAxisCommon(2, BOTTOM_TICK_HOURS, BOTTOM_TICK_LABELS, true, 2),
      ],
      yAxis: [
        {
          type: 'value',
          gridIndex: 0,
          position: 'left',
          min: -2486700,
          max: -2476894,
          axisLine: { show: false, onZero: false },
          splitLine: { show: false },
          axisTick: { ...tickStyle, customValues: RAW_LEFT_TICKS },
          axisLabel: { ...labelBase, margin: 14, customValues: RAW_LEFT_TICKS, showMinLabel: true, showMaxLabel: true, formatter: minusFmt },
        },
        {
          type: 'value',
          gridIndex: 0,
          position: 'right',
          min: -7123000,
          max: 0,
          axisLine: { show: false, onZero: false },
          splitLine: { show: false },
          axisTick: { ...tickStyle, customValues: RAW_RIGHT_TICKS },
          axisLabel: { ...labelBase, margin: 15, customValues: RAW_RIGHT_TICKS, showMinLabel: true, showMaxLabel: true, formatter: minusFmt },
        },
        azYAxis(1),
        azYAxis(2),
      ],
      legend: {
        data: [SERIES_NAME],
        left: 1121.5,
        top: 233,
        orient: 'vertical',
        selectedMode: false,
        icon: 'rect',
        itemWidth: 22,
        itemHeight: 1.6,
        padding: [3, 4, 3, 3.5],
        backgroundColor: 'rgba(255,255,255,0.8)',
        borderColor: '#cccccc',
        borderWidth: 1,
        borderRadius: 2.5,
        textStyle: { fontSize: 10.2, color: TEXT_COLOR, fontFamily: FONT, padding: [0, 0, 0, 3] },
      },
      series: [
        {
          name: SERIES_NAME,
          type: 'line',
          xAxisIndex: 0,
          yAxisIndex: 0,
          data: rawData,
          showSymbol: false,
          symbol: 'none',
          lineStyle: { color: LINE_COLOR, width: 1.6 },
          itemStyle: { color: LINE_COLOR },
          silent: true,
        },
        {
          name: SERIES_NAME,
          type: 'line',
          xAxisIndex: 0,
          yAxisIndex: 1,
          data: rawData,
          showSymbol: false,
          symbol: 'none',
          lineStyle: { color: LINE_COLOR, width: 1.6 },
          itemStyle: { color: LINE_COLOR },
          silent: true,
        },
        scatterSeries(FULL_LABEL, 1, AZIMUTH_FULL_A, 0),
        scatterSeries(FULL_LABEL, 1, AZIMUTH_FULL_B, SECOND_LIST_OFFSET_HOURS),
        scatterSeries(HALF_LABEL, 2, AZIMUTH_HALF_A, 0),
        scatterSeries(HALF_LABEL, 2, AZIMUTH_HALF_B, SECOND_LIST_OFFSET_HOURS),
      ],
      graphic: [
        {
          type: 'text',
          x: GRID_LEFT + GRID_WIDTH / 2,
          y: 105,
          style: { text: TITLE, fontSize: 24.5, fontFamily: FONT, fill: TEXT_COLOR, textAlign: 'center', textVerticalAlign: 'middle' },
        },
        {
          type: 'text',
          x: 121,
          y: GRID_TOPS[1] + GRID_HEIGHT / 2,
          rotation: Math.PI / 2,
          style: { text: FULL_LABEL, fontSize: 12, fontFamily: FONT, fill: TEXT_COLOR, textAlign: 'center', textVerticalAlign: 'middle' },
        },
        {
          type: 'text',
          x: 121,
          y: GRID_TOPS[2] + GRID_HEIGHT / 2,
          rotation: Math.PI / 2,
          style: { text: HALF_LABEL, fontSize: 12, fontFamily: FONT, fill: TEXT_COLOR, textAlign: 'center', textVerticalAlign: 'middle' },
        },
        {
          type: 'text',
          x: GRID_LEFT + GRID_WIDTH,
          y: 956,
          style: { text: DATE_OFFSET_LABEL, fontSize: 11.8, fontFamily: FONT, fill: TEXT_COLOR, textAlign: 'right', textVerticalAlign: 'middle' },
        },
      ],
    };

    chart.setOption(option);
    return () => chart.dispose();
  }, []);

  return <div ref={ref} style={{ position: 'fixed', left: 0, top: 0, width: 1350, height: 1050, background: '#fff' }} />;
}
